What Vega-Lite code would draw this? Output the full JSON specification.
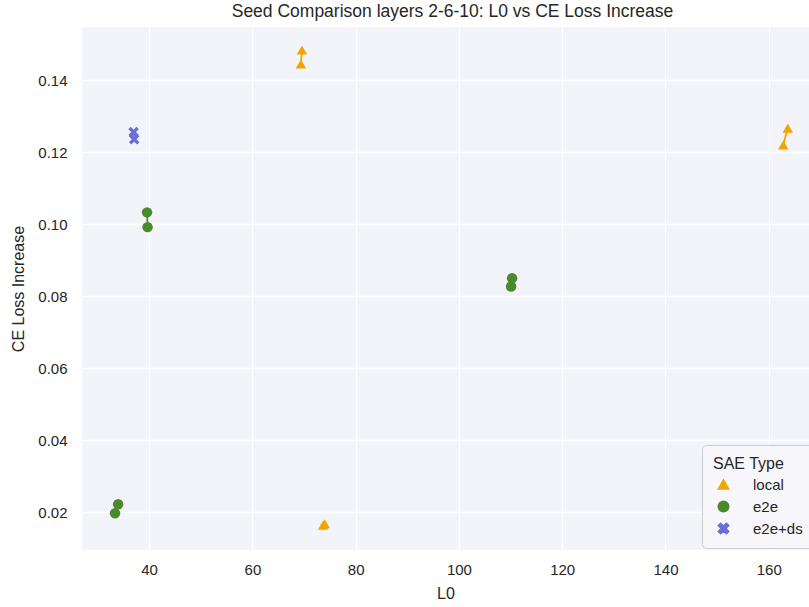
{
  "$schema": "https://vega.github.io/schema/vega-lite/v6.json",
  "autosize": {"type": "none"},
  "width": 727,
  "height": 523,
  "padding": {"left": 82, "top": 27, "right": 0, "bottom": 57},
  "background": "white",
  "title": {
    "text": "Seed Comparison layers 2-6-10: L0 vs CE Loss Increase",
    "font": "Liberation Sans",
    "fontSize": 17.5,
    "fontWeight": "normal",
    "color": "#262626",
    "anchor": "middle",
    "dx": 7,
    "offset": 7
  },
  "config": {
    "view": {"fill": "#f3f4f9", "stroke": null},
    "font": "Liberation Sans",
    "axis": {
      "domain": false,
      "ticks": false,
      "grid": true,
      "gridColor": "white",
      "gridWidth": 1.3,
      "labelFont": "Liberation Sans",
      "labelFontSize": 15,
      "labelColor": "#262626",
      "titleFont": "Liberation Sans",
      "titleFontSize": 16,
      "titleFontWeight": "normal",
      "titleColor": "#262626"
    },
    "legend": {
      "orient": "none",
      "legendX": 620,
      "legendY": 418,
      "direction": "vertical",
      "fillColor": "#f7f7fb",
      "strokeColor": "#cccccc",
      "cornerRadius": 4,
      "padding": 11,
      "titleFont": "Liberation Sans",
      "titleFontSize": 16,
      "titleFontWeight": "normal",
      "titleColor": "#262626",
      "titlePadding": 5,
      "labelFont": "Liberation Sans",
      "labelFontSize": 15,
      "labelColor": "#262626",
      "labelOffset": 22,
      "rowPadding": 5,
      "symbolOffset": 3,
      "symbolSize": 110
    }
  },
  "data": {
    "values": [
      {"run": "local-a", "sae_type": "local", "L0": 69.6, "ce_loss_increase": 0.1484},
      {"run": "local-a", "sae_type": "local", "L0": 69.4, "ce_loss_increase": 0.1445},
      {"run": "local-b", "sae_type": "local", "L0": 163.7, "ce_loss_increase": 0.1267},
      {"run": "local-b", "sae_type": "local", "L0": 162.8, "ce_loss_increase": 0.1220},
      {"run": "local-c", "sae_type": "local", "L0": 73.7, "ce_loss_increase": 0.0164},
      {"run": "local-c", "sae_type": "local", "L0": 74.0, "ce_loss_increase": 0.0168},
      {"run": "e2e-a", "sae_type": "e2e", "L0": 39.6, "ce_loss_increase": 0.1033},
      {"run": "e2e-a", "sae_type": "e2e", "L0": 39.7, "ce_loss_increase": 0.0992},
      {"run": "e2e-b", "sae_type": "e2e", "L0": 110.3, "ce_loss_increase": 0.0850},
      {"run": "e2e-b", "sae_type": "e2e", "L0": 110.1, "ce_loss_increase": 0.0827},
      {"run": "e2e-c", "sae_type": "e2e", "L0": 34.0, "ce_loss_increase": 0.0222},
      {"run": "e2e-c", "sae_type": "e2e", "L0": 33.4, "ce_loss_increase": 0.0197},
      {"run": "e2e+ds-a", "sae_type": "e2e+ds", "L0": 37.0, "ce_loss_increase": 0.1256},
      {"run": "e2e+ds-a", "sae_type": "e2e+ds", "L0": 37.1, "ce_loss_increase": 0.1236}
    ]
  },
  "encoding": {
    "x": {
      "field": "L0",
      "type": "quantitative",
      "title": "L0",
      "scale": {"domain": [27.0, 167.8], "nice": false, "zero": false},
      "axis": {"values": [40, 60, 80, 100, 120, 140, 160], "labelPadding": 12, "titlePadding": 8}
    },
    "y": {
      "field": "ce_loss_increase",
      "type": "quantitative",
      "title": "CE Loss Increase",
      "scale": {"domain": [0.0095, 0.1548], "nice": false, "zero": false},
      "axis": {"values": [0.02, 0.04, 0.06, 0.08, 0.1, 0.12, 0.14], "format": ".2f", "labelPadding": 15, "titlePadding": 11}
    }
  },
  "layer": [
    {
      "mark": {"type": "line", "strokeWidth": 1.8},
      "encoding": {
        "detail": {"field": "run", "type": "nominal"},
        "color": {
          "field": "sae_type",
          "type": "nominal",
          "scale": {"domain": ["local", "e2e", "e2e+ds"], "range": ["#f2a500", "#4b8a2c", "#6a6fd6"]},
          "title": "SAE Type"
        }
      }
    },
    {
      "mark": {"type": "point", "filled": true, "opacity": 1, "size": 110},
      "encoding": {
        "color": {
          "field": "sae_type",
          "type": "nominal",
          "scale": {"domain": ["local", "e2e", "e2e+ds"], "range": ["#f2a500", "#4b8a2c", "#6a6fd6"]},
          "title": "SAE Type"
        },
        "shape": {
          "field": "sae_type",
          "type": "nominal",
          "title": "SAE Type",
          "scale": {
            "domain": ["local", "e2e", "e2e+ds"],
            "range": [
              "triangle-up",
              "circle",
              "M-1,-0.55L-0.55,-1L0,-0.45L0.55,-1L1,-0.55L0.45,0L1,0.55L0.55,1L0,0.45L-0.55,1L-1,0.55L-0.45,0Z"
            ]
          }
        }
      }
    }
  ]
}
